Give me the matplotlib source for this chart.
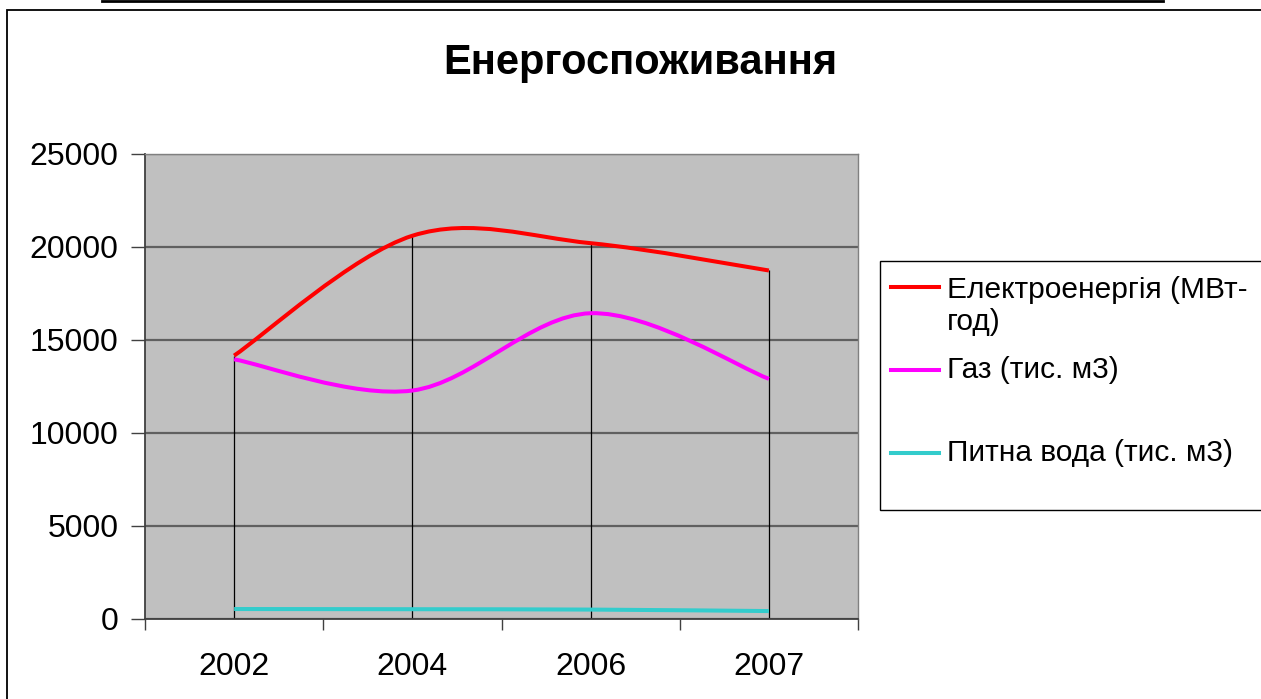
import numpy as np
import matplotlib
matplotlib.use("Agg")
import matplotlib.pyplot as plt
from matplotlib.path import Path
from matplotlib.patches import PathPatch, Rectangle
from matplotlib.lines import Line2D

plt.rcParams['font.family'] = ['Liberation Sans', 'DejaVu Sans']

# ---- data ----
years = ["2002", "2004", "2006", "2007"]
electricity = [14150, 20600, 20200, 18730]   # Електроенергія (МВт-год)
gas = [13950, 12270, 16430, 12900]           # Газ (тис. м3)
water = [510, 500, 480, 400]                 # Питна вода (тис. м3)
series_labels = ["Електроенергія (МВт-\nгод)", "Газ (тис. м3)", "Питна вода (тис. м3)"]
y_ticks = [0, 5000, 10000, 15000, 20000, 25000]
title = "Енергоспоживання"

colors = ["#FF0000", "#FF00FF", "#33CCCC"]

W, H = 1261, 699
fig = plt.figure(figsize=(W / 100, H / 100), dpi=100)
fig.patch.set_facecolor("white")

def fx(px):
    return px / W

def fy(py):
    return 1 - py / H

ax = fig.add_axes([fx(145), fy(618.5), fx(858) - fx(145), fy(154) - fy(618.5)])
ax.set_facecolor("#C0C0C0")

x = np.arange(len(years))

def smooth_path(xs, ys):
    pts = np.column_stack([xs, ys]).astype(float)
    n = len(pts)
    verts = [pts[0]]
    codes = [Path.MOVETO]
    for i in range(n - 1):
        p0 = pts[max(i - 1, 0)]
        p1 = pts[i]
        p2 = pts[i + 1]
        p3 = pts[min(i + 2, n - 1)]
        c1 = p1 + (p2 - p0) / 6.0
        c2 = p2 - (p3 - p1) / 6.0
        verts += [c1, c2, p2]
        codes += [Path.CURVE4] * 3
    return Path(verts, codes)

# drop lines
all_series = [electricity, gas, water]
tops = np.max(np.array(all_series), axis=0)
ax.vlines(x, 0, tops, colors="black", lw=0.9, zorder=2)

for vals, c in zip(all_series, colors):
    patch = PathPatch(smooth_path(x, vals), facecolor="none", edgecolor=c,
                      lw=2.9, zorder=3, capstyle="butt", joinstyle="round")
    ax.add_patch(patch)

ax.set_xlim(-0.5, len(years) - 0.5)
ax.set_ylim(0, 25000)
ax.set_yticks(y_ticks)
ax.set_yticklabels([str(v) for v in y_ticks])
ax.yaxis.grid(True, color="#606060", lw=1.6, zorder=1)
ax.set_axisbelow(True)

# category boundaries for x ticks
ax.set_xticks(np.arange(-0.5, len(years), 1.0))
ax.set_xticklabels([])
ax.set_xticks(x, minor=True)
ax.set_xticklabels(years, minor=True)
ax.tick_params(axis="x", which="minor", length=0, pad=24, labelsize=23)
ax.tick_params(axis="x", which="major", length=8, width=1, color="#404040", direction="out")
ax.tick_params(axis="y", length=10, width=1, color="#404040", direction="out", pad=9, labelsize=23)

for side in ["left", "bottom"]:
    ax.spines[side].set_color("#404040")
    ax.spines[side].set_linewidth(1.3)
for side in ["right", "top"]:
    ax.spines[side].set_color("#808080")
    ax.spines[side].set_linewidth(1.0)

# title
fig.text(fx(640), fy(63), title, ha="center", va="center", fontsize=30, fontweight="bold")

# outer chart border and top page line
fig.add_artist(Rectangle((fx(7), -0.1), 2.0, fy(10) + 0.1, transform=fig.transFigure,
                         fill=False, edgecolor="black", lw=1.3))
fig.add_artist(Line2D([fx(102), fx(1163)], [fy(1.2), fy(1.2)], color="black", lw=2.0))

# legend (manual, Excel-like)
fig.add_artist(Rectangle((fx(880), fy(510)), 1.0, fy(261) - fy(510), transform=fig.transFigure,
                         facecolor="white", edgecolor="black", lw=1.0))
legend_y = [287, 370, 453]
text_y = [306, 370, 453]
for c, ly, ty, lab in zip(colors, legend_y, text_y, series_labels):
    fig.add_artist(Line2D([fx(891), fx(939)], [fy(ly), fy(ly)], color=c, lw=2.9))
    fig.text(fx(947), fy(ty), lab, ha="left", va="center", fontsize=21.5, linespacing=1.15)

fig.savefig("out.png", dpi=100)
